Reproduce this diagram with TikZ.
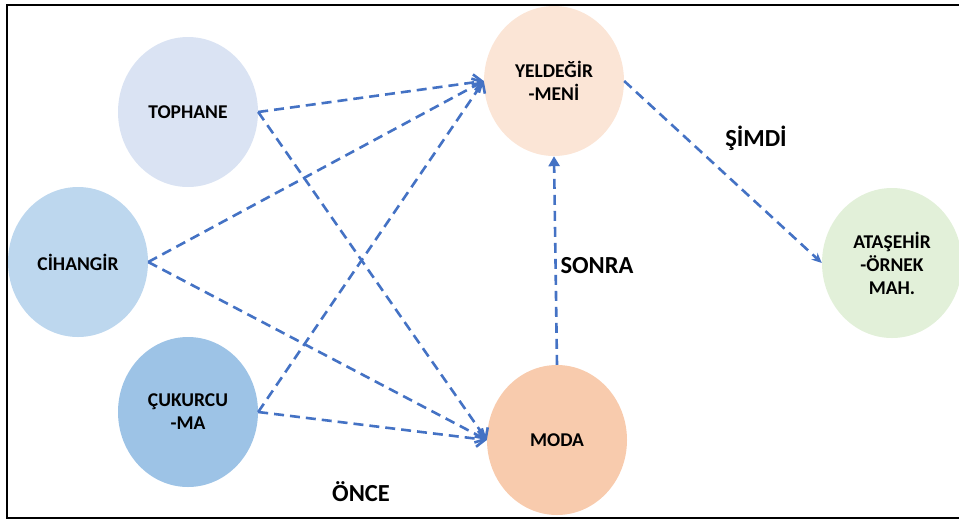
\documentclass[tikz,border=0pt]{standalone}
\usepackage{fontspec}
\setmainfont{Carlito}
\usetikzlibrary{shapes.geometric,arrows.meta}
\definecolor{linkblue}{HTML}{4472C4}
\definecolor{fillA}{HTML}{DAE3F3}
\definecolor{fillB}{HTML}{BDD7EE}
\definecolor{fillC}{HTML}{9DC3E6}
\definecolor{fillD}{HTML}{FBE5D6}
\definecolor{fillE}{HTML}{F8CBAD}
\definecolor{fillF}{HTML}{E2F0D9}
\tikzset{
  place/.style={ellipse, draw=none, minimum width=140pt, minimum height=150pt,
    inner sep=0pt, align=center, font=\bfseries\fontsize{19.5}{23}\selectfont},
  link/.style={draw=linkblue, line width=2.6pt, dash pattern=on 10pt off 6pt},
  barb/.style={link, -{Straight Barb[length=8pt,width=16pt,line width=2.6pt]}},
  solidhead/.style={link, -{Triangle[length=10pt,width=11pt]}},
  smallhead/.style={link, -{Stealth[length=10pt,width=9pt]}},
  phase/.style={font=\bfseries\fontsize{24.5}{28}\selectfont}
}
\begin{document}
\begin{tikzpicture}[x=1pt,y=-1pt]
  \useasboundingbox (0,0) rectangle (959,523);
  % outer frame (its right side runs past the page edge)
  \draw[line width=2.4pt] (7,5) rectangle (975,518);

  % districts
  \node[place, fill=fillA] (tophane) at (188,112) {TOPHANE};
  \node[place, fill=fillB] (cihangir) at (78,262) {CİHANGİR};
  \node[place, fill=fillC] (cukurcuma) at (188,412) {ÇUKURCU\\-MA};
  \node[place, fill=fillD] (yeldegirmeni) at (554,81) {YELDEĞİR\\-MENİ};
  \node[place, fill=fillE] (moda) at (557,440) {MODA};
  \node[place, fill=fillF] (atasehir) at (892,263) {ATAŞEHİR\\-ÖRNEK\\MAH.};

  % phase labels
  \node[phase] (simdi) at (756,138) {ŞİMDİ};
  \node[phase] (sonra) at (597,266) {SONRA};
  \node[phase] (once) at (361,492) {ÖNCE};

  % early moves
  \draw[barb] (tophane.east) -- (yeldegirmeni.west);
  \draw[barb] (tophane.east) -- (moda.west);
  \draw[barb] (cihangir.east) -- (yeldegirmeni.west);
  \draw[barb] (cihangir.east) -- (moda.west);
  \draw[barb] (cukurcuma.east) -- (yeldegirmeni.west);
  \draw[barb] (cukurcuma.east) -- (moda.west);

  % later moves
  \draw[solidhead] (moda.north) -- (yeldegirmeni.south);
  \draw[smallhead] (yeldegirmeni.east) -- (atasehir.west);
\end{tikzpicture}
\end{document}
